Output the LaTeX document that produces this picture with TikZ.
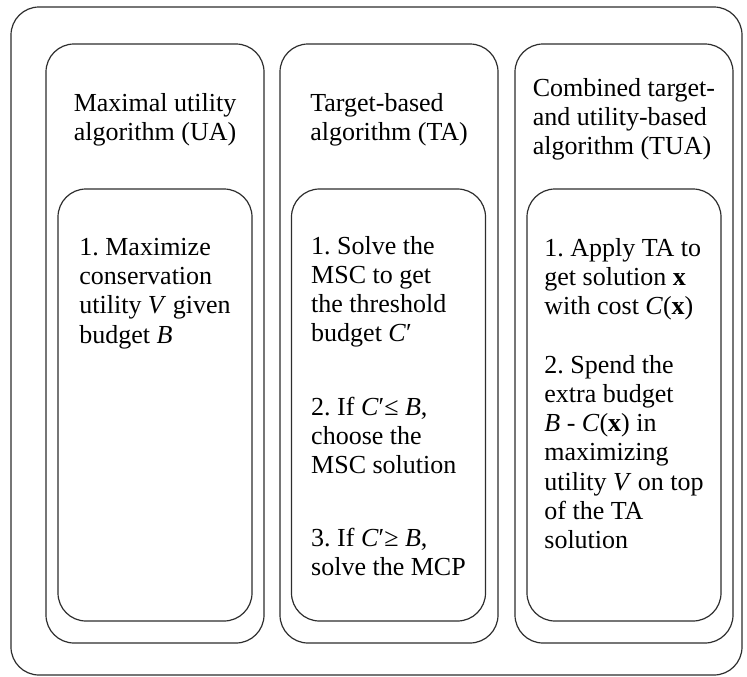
\documentclass[tikz,border=0pt]{standalone}
\usepackage{fontspec}
\setmainfont{Liberation Serif}
\usetikzlibrary{positioning}
\definecolor{linegray}{RGB}{45, 45, 45}
\frenchspacing

\tikzset{
  roundbox/.style={draw=linegray, line width=0.9pt, rounded corners=21pt, inner sep=0pt},
  boxtext/.style={align=left, inner sep=0pt, anchor=north, text=black,
                  font=\fontsize{19.5}{21.9}\selectfont}
}

\begin{document}
\begin{tikzpicture}[x=0.75pt, y=-0.75pt]
    \useasboundingbox (0,0) rectangle (747,676);

    % Outer frame
    \node[roundbox, minimum width=548.25pt, minimum height=501pt] (frame) at (376.5,341) {};

    % Columns
    \node[roundbox, minimum width=163.5pt, minimum height=449.25pt] (colUA) at (155,343.5) {};
    \node[roundbox, minimum width=163.5pt, minimum height=449.25pt] (colTA) at (389,343.5) {};
    \node[roundbox, minimum width=163.5pt, minimum height=449.25pt] (colTUA) at (624,343.5) {};

    % Inner step boxes
    \node[roundbox, minimum width=145.5pt, minimum height=324pt] (stepsUA) at (155,405) {};
    \node[roundbox, minimum width=145.5pt, minimum height=324pt] (stepsTA) at (388.5,405) {};
    \node[roundbox, minimum width=145.5pt, minimum height=324pt] (stepsTUA) at (624,405) {};

    % Titles
    \node[boxtext] (titleUA) at (155,93) {Maximal utility\\algorithm (UA)};
    \node[boxtext] (titleTA) at (389,93) {Target-based\\algorithm (TA)};
    \node[boxtext] (titleTUA) at (624,78) {Combined target-\\and utility-based\\algorithm (TUA)};

    % Steps
    \node[boxtext] (textUA) at (155,238)
        {1. Maximize\\conservation\\utility \textit{V} given\\budget \textit{B}};
    \node[boxtext] (textTA) at (388.5,236)
        {1. Solve the\\MSC to get\\the threshold\\budget \textit{C}′\\[33pt]
         2. If \textit{C}′≤ \textit{B},\\choose the\\MSC solution\\[33pt]
         3. If \textit{C}′≥ \textit{B},\\solve the MCP};
    \node[boxtext] (textTUA) at (624,238)
        {1. Apply TA to\\get solution \textbf{x}\\with cost \textit{C}(\textbf{x})\\[22pt]
         2. Spend the\\extra budget\\\textit{B} - \textit{C}(\textbf{x}) in\\maximizing\\utility \textit{V} on top\\of the TA\\solution};
\end{tikzpicture}
\end{document}
